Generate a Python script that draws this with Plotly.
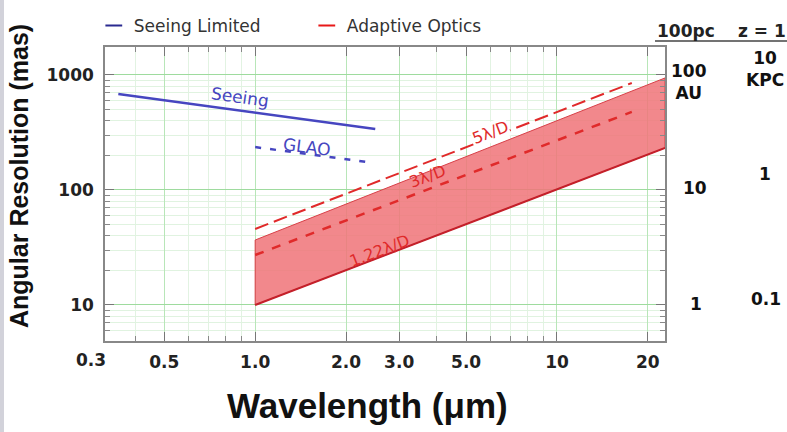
import math
import plotly.graph_objects as go

# ---------------- data ----------------
seeing_wl = [0.352, 2.50]
seeing_res = [684, 339]

glao_wl = [1.0, 2.46]
glao_res = [236, 172]

ao_wl = [1.0, 22.8]
diff_res = [10, 232]          # 1.22 lambda/D (lower edge of AO band)
band_top_res = [36.7, 942]    # upper edge of AO band

ld3_wl = [1.0, 17.7]
ld3_res = [27.2, 477]         # 3 lambda/D

ld5_wl = [1.0, 17.7]
ld5_res = [45.8, 852]         # 5 lambda/D

x_tickvals = [0.5, 1, 2, 3, 5, 10, 20]
x_ticktext = ["0.5", "1.0", "2.0", "3.0", "5.0", "10", "20"]
x_minor = [0.4, 0.6, 0.7, 0.8, 0.9, 4, 6, 7, 8, 9]
y_tickvals = [10, 100, 1000]
y_ticktext = ["10", "100", "1000"]
y_minor = [6, 7, 8, 9, 20, 30, 40, 50, 60, 70, 80, 90, 200, 300, 400, 500, 600, 700, 800, 900]

au_labels = ["100<br>AU", "10", "1"]          # 100 pc column
kpc_labels = ["10<br>KPC", "1", "0.1"]        # z = 1 column

x_range = [math.log10(0.318), math.log10(22.8)]
y_range = [math.log10(4.86), math.log10(1751)]

BLUE = "#4646c0"
RED = "#e02a2a"
DARKRED = "#c4202a"
FONT = "Liberation Sans"
DFONT = "DejaVu Sans"

fig = go.Figure()

# AO band
fig.add_trace(go.Scatter(
    x=ao_wl + ao_wl[::-1] + [ao_wl[0]],
    y=diff_res + band_top_res[::-1] + [diff_res[0]],
    mode="lines", fill="toself", fillcolor="rgba(240,115,120,0.85)",
    line=dict(color="#d84048", width=1), showlegend=False, hoverinfo="skip"))
fig.add_trace(go.Scatter(x=ao_wl, y=diff_res, mode="lines",
                         line=dict(color=DARKRED, width=2), showlegend=False))
fig.add_trace(go.Scatter(x=ld3_wl, y=ld3_res, mode="lines",
                         line=dict(color=RED, width=2.5, dash="dash"), showlegend=False))
fig.add_trace(go.Scatter(x=ld5_wl, y=ld5_res, mode="lines",
                         line=dict(color=RED, width=2, dash="14px,6px"), showlegend=False))

# seeing / GLAO
fig.add_trace(go.Scatter(x=seeing_wl, y=seeing_res, mode="lines",
                         line=dict(color=BLUE, width=2.5), showlegend=False))
fig.add_trace(go.Scatter(x=glao_wl, y=glao_res, mode="lines",
                         line=dict(color=BLUE, width=2.5, dash="6px,9px"), showlegend=False))

# legend entries
fig.add_trace(go.Scatter(x=[None], y=[None], mode="markers", name="Seeing Limited",
                         marker=dict(symbol="line-ew", size=12, color="#2a2a90",
                                     line=dict(color="#2a2a90", width=5))))
fig.add_trace(go.Scatter(x=[None], y=[None], mode="markers", name="Adaptive Optics",
                         marker=dict(symbol="line-ew", size=12, color="#e81818",
                                     line=dict(color="#e81818", width=5))))

annotations = []
# curve labels: text, x, y, angle, colour, size, background
curve_labels = [
    ("Seeing", 0.89, 644, 8, BLUE, 17, None),
    ("GLAO", 1.49, 236, 7, BLUE, 17, None),
    ("5λ/D", 6.0, 313, -21, RED, 16, "white"),
    ("3λ/D", 3.71, 130, -21, RED, 16, None),
    ("1.22λ/D", 2.59, 30, -21, RED, 16, None),
]
for txt, xv, yv, ang, col, sz, bg in curve_labels:
    a = dict(x=math.log10(xv), y=math.log10(yv), xref="x", yref="y",
             text=txt, showarrow=False, textangle=ang,
             xanchor="center", yanchor="middle",
             font=dict(family=DFONT, size=sz, color=col))
    if bg:
        a["bgcolor"] = bg
        a["borderpad"] = 0
    annotations.append(a)


def px(xp):
    return (xp - 105) / 560.0


def py(yp):
    return (341 - yp) / 294.0


# "0.3" tick label sits just left of the frame
annotations.append(dict(x=px(91), y=0, xref="paper", yref="paper", yshift=-19,
                        xanchor="center", yanchor="middle",
                        text="0.3", showarrow=False,
                        font=dict(family=DFONT, size=17, color="#222", weight="bold")))

# axis titles
annotations.append(dict(x=px(367), y=py(405), xref="paper", yref="paper",
                        xanchor="center", yanchor="middle",
                        text="Wavelength (μm)", showarrow=False,
                        font=dict(family=FONT, size=35, color="#111", weight="bold")))
annotations.append(dict(x=px(19), y=py(176), xref="paper", yref="paper",
                        xanchor="center", yanchor="middle", textangle=-90,
                        text="Angular Resolution (mas)", showarrow=False,
                        font=dict(family=FONT, size=25, color="#111", weight="bold")))

# right-hand scale columns
annotations.append(dict(x=px(686), y=py(31), xref="paper", yref="paper", text="100pc",
                        xanchor="center", yanchor="middle", showarrow=False,
                        font=dict(family=DFONT, size=17, color="#222", weight="bold")))
annotations.append(dict(x=px(762), y=py(31), xref="paper", yref="paper", text="z = 1",
                        xanchor="center", yanchor="middle", showarrow=False,
                        font=dict(family=DFONT, size=17, color="#222", weight="bold")))
au_pos = [(689, 82), (695, 188), (696, 304)]
kpc_pos = [(765, 69), (765, 174), (766, 299)]
for t, (xp, yp) in zip(au_labels, au_pos):
    annotations.append(dict(x=px(xp), y=py(yp), xref="paper", yref="paper", text=t,
                            showarrow=False, align="center", xanchor="center", yanchor="middle",
                            font=dict(family=DFONT, size=17, color="#111", weight="bold")))
for t, (xp, yp) in zip(kpc_labels, kpc_pos):
    annotations.append(dict(x=px(xp), y=py(yp), xref="paper", yref="paper", text=t,
                            showarrow=False, align="center", xanchor="center", yanchor="middle",
                            font=dict(family=DFONT, size=17, color="#111", weight="bold")))

shapes = [
    # underline of the right-hand header
    dict(type="line", xref="paper", yref="paper", x0=px(655), x1=px(787),
         y0=py(41), y1=py(41), line=dict(color="#444", width=1.5)),
    # gray strip at the left border of the picture
    dict(type="rect", xref="paper", yref="paper", x0=px(0), x1=px(4), y0=py(432), y1=py(0),
         fillcolor="#d2d2da", line=dict(width=0), layer="below"),
]

fig.update_layout(
    width=787, height=432,
    margin=dict(l=105, r=122, t=47, b=91, autoexpand=False),
    paper_bgcolor="white", plot_bgcolor="white",
    font=dict(family=FONT, color="#222"),
    showlegend=True,
    legend=dict(orientation="h", x=-0.02, y=1.01, xanchor="left", yanchor="bottom",
                font=dict(family=DFONT, size=17, color="#333"),
                entrywidth=168, bgcolor="rgba(0,0,0,0)", itemsizing="constant"),
    annotations=annotations,
    shapes=shapes,
)

fig.update_xaxes(
    type="log", range=x_range,
    tickvals=x_tickvals, ticktext=x_ticktext,
    tickfont=dict(family=DFONT, size=17, color="#222", weight="bold"),
    ticks="inside", ticklen=9, tickcolor="#777", tickwidth=1.2,
    ticklabelstandoff=5,
    showline=True, linecolor="#888", linewidth=1.5, mirror="ticks",
    showgrid=True, gridcolor="#b8e6b8", gridwidth=1,
    minor=dict(tickvals=x_minor, ticks="inside", ticklen=5, tickcolor="#888",
               showgrid=True, gridcolor="#e2f3e2", gridwidth=1),
    zeroline=False,
)
fig.update_yaxes(
    type="log", range=y_range,
    tickvals=y_tickvals, ticktext=y_ticktext,
    tickfont=dict(family=DFONT, size=17, color="#222", weight="bold"),
    ticks="inside", ticklen=9, tickcolor="#777", tickwidth=1.2,
    ticklabelstandoff=6,
    showline=True, linecolor="#888", linewidth=1.5, mirror="ticks",
    showgrid=True, gridcolor="#9edb9e", gridwidth=1.2,
    minor=dict(tickvals=y_minor, ticks="inside", ticklen=5, tickcolor="#888",
               showgrid=True, gridcolor="#e0f3e0", gridwidth=1),
    zeroline=False,
)

fig.write_html("out.html", config={"displayModeBar": False},
               post_script="document.body.style.margin='0';document.body.style.padding='0';")
